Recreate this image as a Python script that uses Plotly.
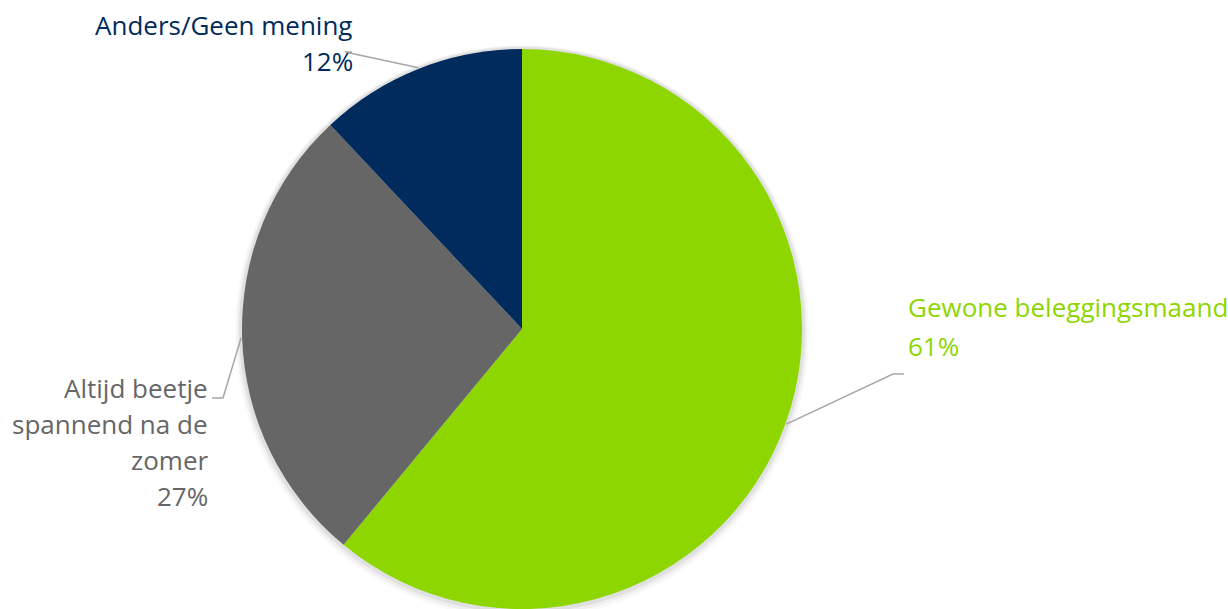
import math
import plotly.graph_objects as go

# ---- data ----
categories = ["Gewone beleggingsmaand", "Altijd beetje<br>spannend na de<br>zomer", "Anders/Geen mening"]
values = [61, 27, 12]
colors = ["#8DD600", "#666666", "#002B5C"]

W, H = 1228, 609
CX, CY, R = 522, 329, 280  # pixel centre / radius (layout)

def dom(cx, cy, r):
    return dict(x=[(cx - r) / W, (cx + r) / W], y=[max(0, 1 - (cy + r) / H), min(1, 1 - (cy - r) / H)])

def px2paper(x, y):
    return x / W, 1 - y / H

fig = go.Figure()
fig.add_trace(go.Pie(labels=categories, values=values, marker=dict(colors=colors, line=dict(width=0)),
                     sort=False, direction="clockwise", rotation=0, textinfo="none",
                     hoverinfo="label+percent", showlegend=False, domain=dom(CX, CY, R)))

shapes = []
# soft shadow circles behind the pie
for dr, dy, a in [(7, 3, 0.025), (5, 2, 0.04), (3, 1, 0.06)]:
    x0, y1 = px2paper(CX - R - dr, CY + dy - R - dr)
    x1, y0 = px2paper(CX + R + dr, CY + dy + R + dr)
    shapes.append(dict(type="circle", xref="paper", yref="paper", x0=x0, x1=x1, y0=y0, y1=y1,
                       fillcolor=f"rgba(0,0,0,{a})", line=dict(width=0), layer="below"))

total = sum(values)
cum = 0
mids = []
for v in values:
    mids.append((cum + v / 2) / total * 2 * math.pi)
    cum += v

# label layout: (elbow x, elbow y, end x, text x, first cap-top y, line step, anchor)
layout_lbl = [
    (893, 374, 904, 906, 298, 38, "left"),
    (223, 398, 212, 210, 378, 36.3, "right"),
    (345, 52, 352, 355, 15, 37, "right"),
]
FS = 26
annotations = []
for i, (ex, ey, endx, tx, ty, step, anc) in enumerate(layout_lbl):
    sx = CX + (R + 1) * math.sin(mids[i])
    sy = CY - (R + 1) * math.cos(mids[i])
    p0 = px2paper(sx, sy); p1 = px2paper(ex, ey); p2 = px2paper(endx, ey)
    path = f"M {p0[0]},{p0[1]} L {p1[0]},{p1[1]} L {p2[0]},{p2[1]}"
    shapes.append(dict(type="path", xref="paper", yref="paper", path=path,
                       line=dict(color="#A6A6A6", width=1.5)))
    pct = round(values[i] / total * 100)
    lines = categories[i].split("<br>") + [f"{pct}%"]
    for k, ln in enumerate(lines):
        tpx, tpy = px2paper(tx, ty + k * step - 10.5)
        annotations.append(dict(xref="paper", yref="paper", x=tpx, y=tpy, xanchor=anc, yanchor="top",
                                align=anc, showarrow=False, text=ln,
                                font=dict(family="Open Sans", size=FS, color=colors[i])))

fig.update_layout(width=W, height=H, margin=dict(l=0, r=0, t=0, b=0),
                  paper_bgcolor="white", plot_bgcolor="white",
                  shapes=shapes, annotations=annotations)
fig.write_html("out.html", config={"displayModeBar": False},
               post_script="document.body.style.margin='0';document.body.style.overflow='hidden';")
